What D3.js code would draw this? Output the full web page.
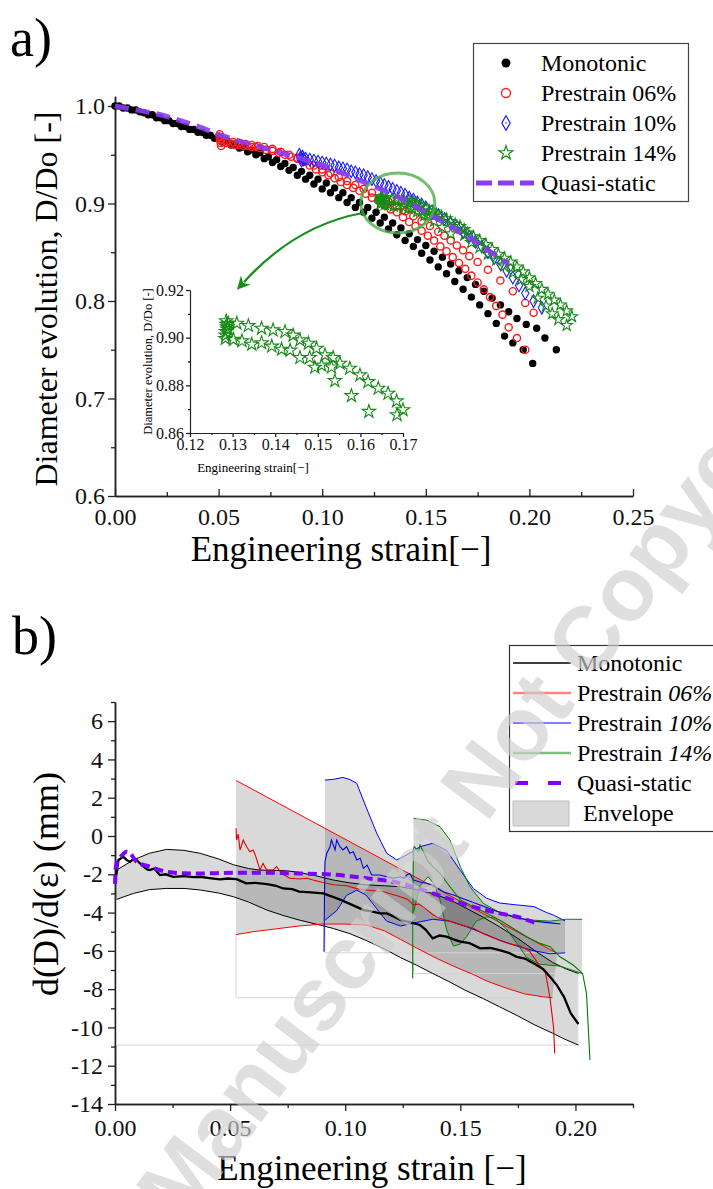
<!DOCTYPE html>
<html>
<head>
<meta charset="utf-8">
<script src="https://cdn.jsdelivr.net/npm/d3@7"></script>
<style>
  body { margin: 0; background: #fff; }
  svg { display: block; }
  svg text { font-family: "Liberation Serif", serif; }
  svg text.stamp { font-family: "Liberation Sans", sans-serif; font-weight: bold; }
</style>
</head>
<body>
<svg id="fig" width="713" height="1189"></svg>
<script>
// ===================== Panel a: diameter evolution D/Do =====================
const aTicksX = [0, 0.05, 0.10, 0.15, 0.20, 0.25];
const aTicksY = [0.6, 0.7, 0.8, 0.9, 1.0];

const monoA_strain = [0,0.004,0.008,0.012,0.016,0.020,0.024,0.028,0.032,0.036,0.040,0.044,0.048,0.052,0.056,0.060,0.064,0.068,0.072,0.076,0.080,0.084,0.088,0.092,0.096,0.100,0.104,0.108,0.112,0.116,0.120,0.124,0.128,0.132,0.136,0.140,0.144,0.148,0.152,0.156,0.160,0.164,0.168,0.172,0.176,0.180,0.184,0.188,0.192,0.197,0.2016];
const monoA_D = [1.000,0.998,0.996,0.994,0.991,0.988,0.985,0.982,0.979,0.976,0.973,0.970,0.967,0.963,0.960,0.957,0.953,0.950,0.946,0.942,0.938,0.934,0.929,0.925,0.920,0.915,0.911,0.906,0.901,0.896,0.891,0.885,0.880,0.874,0.868,0.862,0.856,0.849,0.842,0.835,0.828,0.820,0.812,0.804,0.796,0.787,0.777,0.764,0.757,0.750,0.736];

const monoB_strain = [0.002,0.006,0.010,0.014,0.018,0.022,0.026,0.030,0.034,0.038,0.042,0.046,0.050,0.054,0.058,0.062,0.066,0.070,0.074,0.078,0.082,0.086,0.090,0.094,0.098,0.102,0.106,0.110,0.114,0.118,0.122,0.126,0.130,0.134,0.138,0.142,0.146,0.150,0.154,0.158,0.162,0.166,0.170,0.174,0.178,0.182,0.186,0.190,0.194,0.1985,0.2035,0.2075,0.213];
const monoB_D = [1.000,0.998,0.996,0.993,0.991,0.988,0.985,0.982,0.979,0.976,0.973,0.970,0.967,0.964,0.961,0.958,0.955,0.952,0.948,0.945,0.941,0.937,0.933,0.929,0.925,0.921,0.916,0.911,0.906,0.901,0.896,0.891,0.886,0.880,0.875,0.869,0.863,0.857,0.851,0.845,0.838,0.831,0.824,0.817,0.810,0.803,0.796,0.789,0.782,0.776,0.772,0.762,0.750];

const pre06A_strain = [0.0505,0.0505,0.0508,0.0510,0.0512,0.052,0.054,0.056,0.058,0.060,0.062,0.064,0.066,0.068,0.070,0.073,0.076,0.079,0.082,0.085,0.088,0.091,0.094,0.097,0.100,0.103,0.106,0.109,0.112,0.115,0.118,0.121,0.124,0.127,0.130,0.133,0.136,0.139,0.142,0.145,0.148,0.151,0.154,0.157,0.160,0.163,0.166,0.169,0.172,0.175,0.178,0.181,0.184,0.187,0.190,0.194,0.198];
const pre06A_D = [0.971,0.968,0.965,0.962,0.959,0.963,0.962,0.961,0.960,0.960,0.959,0.959,0.958,0.958,0.957,0.955,0.954,0.952,0.950,0.948,0.946,0.943,0.939,0.935,0.932,0.929,0.926,0.922,0.919,0.916,0.913,0.910,0.906,0.903,0.898,0.894,0.891,0.886,0.881,0.877,0.872,0.867,0.862,0.856,0.851,0.845,0.839,0.833,0.826,0.819,0.812,0.804,0.795,0.786,0.773,0.762,0.750];

const pre06B_strain = [0.0515,0.054,0.057,0.060,0.063,0.066,0.069,0.072,0.076,0.080,0.084,0.088,0.092,0.096,0.100,0.104,0.108,0.112,0.116,0.120,0.124,0.128,0.132,0.136,0.140,0.144,0.148,0.152,0.156,0.159,0.162,0.165,0.168,0.171,0.175,0.180,0.186,0.192,0.198,0.202];
const pre06B_D = [0.966,0.964,0.963,0.962,0.961,0.960,0.959,0.958,0.956,0.953,0.950,0.947,0.943,0.939,0.935,0.931,0.927,0.923,0.919,0.915,0.911,0.906,0.902,0.897,0.892,0.887,0.882,0.877,0.871,0.867,0.862,0.857,0.852,0.846,0.840,0.832,0.821,0.810,0.798,0.788];

const pre10_strain = [0.0890,0.0895,0.0900,0.0905,0.0910,0.092,0.094,0.096,0.098,0.100,0.102,0.104,0.106,0.108,0.110,0.112,0.114,0.116,0.118,0.120,0.122,0.124,0.126,0.128,0.130,0.132,0.134,0.136,0.138,0.140,0.142,0.144,0.146,0.148,0.150,0.153,0.156,0.159,0.162,0.165,0.168,0.171,0.174,0.177,0.180,0.183,0.186,0.189,0.192,0.195,0.198,0.202,0.206];
const pre10_D = [0.950,0.947,0.944,0.948,0.945,0.946,0.945,0.944,0.943,0.942,0.941,0.940,0.939,0.937,0.936,0.935,0.933,0.932,0.930,0.929,0.927,0.925,0.923,0.921,0.919,0.917,0.915,0.913,0.911,0.909,0.906,0.904,0.901,0.899,0.896,0.892,0.888,0.884,0.880,0.876,0.871,0.866,0.861,0.856,0.850,0.844,0.838,0.831,0.824,0.816,0.808,0.800,0.793];

const pre14A_strain = [0.1285,0.1286,0.1287,0.1288,0.1290,0.1310,0.1337,0.1368,0.1395,0.1423,0.1442,0.1458,0.1478,0.1497,0.1517,0.1536,0.1552,0.1575,0.1599,0.1618,0.1642,0.1665,0.1685,0.1700,0.173,0.176,0.179,0.182,0.185,0.188,0.191,0.194,0.197,0.200,0.203,0.206,0.209,0.212,0.215,0.218,0.2205];
const pre14A_D = [0.9070,0.9055,0.9045,0.9035,0.9060,0.9060,0.9050,0.9039,0.9032,0.9025,0.9010,0.8990,0.8976,0.8955,0.8927,0.8916,0.8892,0.8871,0.8843,0.8815,0.8787,0.8766,0.8734,0.8697,0.866,0.862,0.858,0.853,0.848,0.844,0.840,0.835,0.830,0.824,0.818,0.812,0.807,0.801,0.796,0.790,0.784];

const pre14B_strain = [0.1283,0.1284,0.1285,0.1302,0.1322,0.1345,0.1368,0.1392,0.1415,0.1435,0.1458,0.1481,0.1493,0.1509,0.1532,0.1540,0.1579,0.1620,0.1686,0.172,0.176,0.180,0.184,0.188,0.192,0.196,0.200,0.204,0.208,0.211,0.214,0.218];
const pre14B_D = [0.8996,0.9010,0.9025,0.8992,0.8986,0.8972,0.8978,0.8964,0.8951,0.8947,0.8916,0.8916,0.8875,0.8884,0.8876,0.8819,0.8756,0.8690,0.8676,0.860,0.855,0.848,0.842,0.836,0.829,0.822,0.815,0.803,0.795,0.787,0.781,0.775];

const quasiA_strain = [0,0.01,0.02,0.03,0.04,0.05,0.06,0.07,0.08,0.09,0.10,0.11,0.12,0.13,0.14,0.15,0.16,0.17,0.18,0.19];
const quasiA_D = [1.000,0.996,0.992,0.986,0.979,0.971,0.964,0.958,0.952,0.946,0.939,0.931,0.922,0.913,0.903,0.891,0.879,0.866,0.852,0.838];

const insetTicksX = [0.12, 0.13, 0.14, 0.15, 0.16, 0.17];
const insetTicksY = [0.86, 0.88, 0.90, 0.92];

const legendA = ["Monotonic", "Prestrain 06%", "Prestrain 10%", "Prestrain 14%", "Quasi-static"];

// ===================== Panel b: d(D)/d(eps) =====================
const bTicksX = [0, 0.05, 0.10, 0.15, 0.20];
const bTicksY = [-14, -12, -10, -8, -6, -4, -2, 0, 2, 4, 6];

const rateMono_strain = [0.0000,0.0007,0.0015,0.0036,0.0050,0.0065,0.0080,0.0094,0.0110,0.0123,0.0140,0.0150,0.017,0.0195,0.022,0.0253,0.030,0.034,0.037,0.041,0.0456,0.049,0.0528,0.057,0.061,0.066,0.070,0.073,0.077,0.080,0.085,0.0905,0.094,0.098,0.103,0.108,0.112,0.115,0.118,0.121,0.124,0.128,0.1325,0.135,0.138,0.141,0.144,0.147,0.150,0.154,0.1586,0.163,0.167,0.171,0.1745,0.178,0.182,0.186,0.189,0.192,0.195,0.198,0.2013];
const rateMono = [-2.3,-1.95,-1.25,-1.08,-1.25,-1.35,-1.2,-1.25,-1.45,-1.6,-1.75,-1.78,-1.7,-2.04,-2.0,-2.13,-2.1,-2.15,-2.13,-2.2,-2.27,-2.22,-2.25,-2.47,-2.45,-2.51,-2.6,-2.74,-2.78,-2.91,-2.95,-3.0,-3.15,-3.34,-3.6,-3.87,-3.95,-4.04,-4.04,-4.2,-4.39,-4.5,-4.65,-4.9,-5.35,-5.2,-5.26,-5.4,-5.52,-5.6,-5.87,-5.85,-5.96,-6.1,-6.31,-6.4,-6.66,-6.95,-7.36,-7.8,-8.4,-9.27,-9.82];

const envMonoUp_strain = [0.0007,0.008,0.015,0.0224,0.030,0.037,0.045,0.0514,0.058,0.063,0.070,0.0746,0.080,0.088,0.0948,0.102,0.109,0.117,0.124,0.131,0.138,0.1455,0.153,0.160,0.167,0.175,0.182,0.190,0.196,0.2013];
const envMonoUp = [-1.78,-1.25,-0.9,-0.70,-0.75,-0.905,-1.2,-1.5,-1.7,-1.78,-1.8,-1.82,-1.9,-2.1,-2.3,-2.45,-2.55,-2.6,-2.65,-2.8,-3.0,-3.34,-3.8,-4.25,-4.74,-5.35,-5.96,-6.6,-6.95,-7.18];
const envMonoLo_strain = [0.0007,0.008,0.015,0.0224,0.030,0.037,0.045,0.0514,0.058,0.066,0.073,0.080,0.088,0.0948,0.102,0.109,0.117,0.124,0.131,0.138,0.145,0.152,0.160,0.167,0.175,0.182,0.190,0.196,0.2013];
const envMonoLo = [-3.31,-3.0,-2.8,-2.74,-2.74,-2.82,-2.98,-3.17,-3.45,-3.87,-4.15,-4.39,-4.62,-4.83,-5.1,-5.45,-5.9,-6.35,-6.75,-7.18,-7.6,-8.05,-8.5,-8.92,-9.4,-9.85,-10.3,-10.65,-10.92];

const rate06_strain = [0.0526,0.0528,0.0535,0.0543,0.0557,0.0565,0.0572,0.0586,0.060,0.0608,0.0616,0.063,0.0643,0.065,0.066,0.0687,0.0702,0.0724,0.076,0.080,0.0833,0.086,0.089,0.0948,0.1006,0.105,0.109,0.1166,0.124,0.127,0.1296,0.132,0.134,0.138,0.141,0.144,0.148,0.152,0.156,0.160,0.164,0.168,0.172,0.176,0.180,0.184,0.187,0.189,0.1905,0.191];
const rate06 = [0.4,-0.21,0.1,-0.73,-0.21,-0.4,-0.56,-0.82,-0.73,-0.95,-1.25,-1.78,-1.43,-1.6,-1.78,-1.78,-1.6,-1.96,-2.21,-2.25,-2.21,-2.3,-2.39,-2.55,-2.6,-2.75,-2.82,-2.91,-3.17,-3.3,-3.6,-3.55,-3.7,-4.1,-4.3,-4.4,-4.55,-4.7,-4.85,-5.1,-5.3,-5.5,-5.65,-5.75,-6.0,-6.7,-7.15,-8.5,-10.0,-11.36];
const env06Up_strain = [0.0526, 0.192];
const env06Up = [2.9, -6.13];
const env06Lo_strain = [0.0526,0.060,0.070,0.080,0.090,0.100,0.109,0.117,0.124,0.131,0.139,0.147,0.155,0.162,0.170,0.178,0.186,0.190];
const env06Lo = [-5.15,-5.0,-4.85,-4.7,-4.6,-4.6,-4.65,-4.95,-5.4,-5.85,-6.35,-6.8,-7.2,-7.6,-7.95,-8.25,-8.4,-8.45];

const rate10_strain = [0.0908,0.0910,0.0912,0.092,0.0934,0.094,0.0956,0.0963,0.0977,0.099,0.1006,0.102,0.1035,0.105,0.1065,0.1079,0.1095,0.1115,0.115,0.118,0.121,0.124,0.1255,0.1267,0.128,0.1296,0.1325,0.1354,0.138,0.1426,0.147,0.1527,0.1586,0.164,0.170,0.176,0.182,0.186,0.190,0.1935];
const rate10 = [-6.05,-3.0,-1.35,-0.9,-0.56,-0.21,-0.73,-0.21,-0.56,-0.73,-0.56,-0.9,-0.82,-1.25,-1.16,-1.69,-1.52,-2.04,-2.04,-2.13,-2.21,-2.13,-2.21,-2.04,-1.96,-2.3,-2.4,-2.47,-2.56,-2.91,-3.08,-3.34,-3.6,-3.85,-4.1,-4.3,-4.45,-4.5,-4.55,-4.6];
const env10Up_strain = [0.0912,0.0948,0.099,0.102,0.105,0.109,0.1137,0.118,0.1224,0.1267,0.1325,0.138,0.144,0.150,0.1557,0.1614,0.167,0.1745,0.182,0.1875,0.1904,0.1955];
const env10Up = [2.92,2.96,3.06,2.95,2.75,1.53,0.14,-0.9,-1.25,-0.99,-0.56,-0.38,-0.75,-1.8,-2.75,-3.25,-3.5,-3.6,-3.69,-4.0,-4.13,-4.44];
const env10Lo_strain = [0.0912,0.0963,0.1006,0.105,0.109,0.1137,0.118,0.124,0.131,0.138,0.1455,0.1527,0.160,0.167,0.1745,0.182,0.189,0.1955];
const env10Lo = [-4.4,-3.9,-3.1,-2.83,-3.08,-3.8,-4.45,-4.7,-4.52,-4.35,-4.45,-4.74,-5.09,-5.44,-5.75,-6.0,-6.15,-6.1];

const rate14_strain = [0.1293,0.1294,0.1296,0.1300,0.1318,0.1325,0.1335,0.1347,0.1360,0.1380,0.1412,0.1455,0.1500,0.1557,0.1614,0.1670,0.1730,0.1788,0.1846,0.1890,0.1933,0.1990,0.2031,0.2048,0.2063];
const rate14 = [-7.44,-3.5,-0.73,-0.56,-0.82,-0.47,-0.73,-0.99,-1.34,-1.6,-1.96,-2.65,-3.34,-3.69,-4.04,-4.39,-4.83,-5.26,-5.61,-5.78,-6.31,-6.74,-7.18,-8.22,-11.7];
const env14Up_strain = [0.1296,0.1354,0.1412,0.1455,0.150,0.1542,0.160,0.167,0.1745,0.182,0.189,0.196,0.2029];
const env14Up = [0.92,0.83,0.48,-0.21,-1.6,-2.65,-3.52,-4.0,-4.3,-4.4,-4.45,-4.35,-4.35];
const env14Lo_strain = [0.1296,0.1325,0.1360,0.1385,0.1412,0.1440,0.1470,0.1500,0.1527,0.1570,0.1614,0.1650,0.1700,0.1745,0.1788,0.1846,0.1933,0.2029];
const env14Lo = [-4.0,-2.6,-2.13,-2.5,-3.34,-4.9,-5.75,-5.65,-5.26,-4.45,-4.22,-4.3,-4.85,-5.6,-6.35,-6.7,-6.8,-7.18];

const rateQS_strain = [0.0000,0.0003,0.0007,0.0020,0.0035,0.0050,0.0065,0.0094,0.0150,0.0224,0.0300,0.0370,0.0514,0.0660,0.0800,0.0948,0.1090,0.1240,0.1380,0.1527,0.1670,0.1745,0.1840];
const rateQS = [-2.5,-1.7,-1.45,-1.15,-0.95,-0.82,-0.9,-1.35,-1.6,-1.87,-1.95,-1.96,-1.92,-1.92,-1.96,-2.02,-2.2,-2.47,-3.0,-3.6,-4.04,-4.22,-4.6];

const legendB = ["Monotonic", "Prestrain ", "Prestrain ", "Prestrain ", "Quasi-static", "Envelope"];
const legendBItalic = ["", "06%", "10%", "14%", "", ""];

// ===================== drawing =====================
const svg = d3.select("#fig");
const zipXY = (xs, ys) => d3.range(Math.min(xs.length, ys.length)).map(i => [xs[i], ys[i]]);

function styleAxis(g, fs) {
  g.attr("font-size", fs);
  g.select(".domain").attr("stroke", "#222").attr("stroke-width", 1.5);
  g.selectAll(".tick line").attr("stroke", "#222").attr("stroke-width", 1.3);
  g.selectAll(".tick text").attr("fill", "#111");
}

// ---------- panel a ----------
const xa = d3.scaleLinear().domain([0, 0.25]).range([115, 633]);
const ya = d3.scaleLinear().domain([0.6, 1.01]).range([496, 96.25]);

const gA = svg.append("g");

// x axis (ticks pointing into the plot)
gA.append("g").attr("transform", `translate(0,${ya(0.6)})`)
  .call(d3.axisBottom(xa).tickValues([0.025,0.075,0.125,0.175,0.225]).tickSize(-4).tickSizeOuter(0).tickFormat(""))
  .call(g => styleAxis(g, 24));
gA.append("g").attr("transform", `translate(0,${ya(0.6)})`)
  .call(d3.axisBottom(xa).tickValues(aTicksX).tickSize(-7).tickSizeOuter(0).tickPadding(12).tickFormat(d3.format(".2f")))
  .call(g => styleAxis(g, 24));
// y axis
gA.append("g").attr("transform", `translate(${xa(0)},0)`)
  .call(d3.axisLeft(ya).tickValues([0.65,0.75,0.85,0.95]).tickSize(4).tickSizeOuter(0).tickFormat(""))
  .call(g => styleAxis(g, 24));
gA.append("g").attr("transform", `translate(${xa(0)},0)`)
  .call(d3.axisLeft(ya).tickValues(aTicksY).tickSize(7).tickSizeOuter(0).tickPadding(3).tickFormat(d3.format(".1f")))
  .call(g => styleAxis(g, 24));

gA.append("text").attr("x", 10).attr("y", 56).attr("font-size", 54).text("a)");
gA.append("text").attr("transform", `translate(57,${(ya(0.6) + ya(1.0)) / 2 - 2}) rotate(-90)`)
  .attr("text-anchor", "middle").attr("font-size", 32)
  .text("Diameter evolution, D/Do [-]");
gA.append("text").attr("x", 341).attr("y", 561)
  .attr("text-anchor", "middle").attr("font-size", 35)
  .text("Engineering strain[\u2212]");

const star = d3.symbol().type(d3.symbolStar);
const diamond = d3.symbol().type(d3.symbolDiamond);

function dots(g, pts, sx, sy, r) {
  g.append("g").selectAll("circle").data(pts).join("circle")
    .attr("cx", d => sx(d[0])).attr("cy", d => sy(d[1])).attr("r", r).attr("fill", "#000");
}
function rings(g, pts, sx, sy, r, col) {
  g.append("g").selectAll("circle").data(pts).join("circle")
    .attr("cx", d => sx(d[0])).attr("cy", d => sy(d[1])).attr("r", r)
    .attr("fill", "none").attr("stroke", col).attr("stroke-width", 1.4);
}
function symbols(g, pts, sx, sy, gen, size, col, sw) {
  g.append("g").selectAll("path").data(pts).join("path")
    .attr("transform", d => `translate(${sx(d[0])},${sy(d[1])})`)
    .attr("d", gen.size(size)())
    .attr("fill", "none").attr("stroke", col).attr("stroke-width", sw);
}

const plotA = gA.append("g");
dots(plotA, zipXY(monoA_strain, monoA_D), xa, ya, 3.7);
dots(plotA, zipXY(monoB_strain, monoB_D), xa, ya, 3.7);
rings(plotA, zipXY(pre06A_strain, pre06A_D), xa, ya, 3.6, "#ff1a1a");
rings(plotA, zipXY(pre06B_strain, pre06B_D), xa, ya, 3.6, "#ff1a1a");
symbols(plotA, zipXY(pre10_strain, pre10_D), xa, ya, diamond, 46, "#1a1aff", 1.1);
symbols(plotA, zipXY(pre14A_strain, pre14A_D), xa, ya, star, 42, "#168a16", 1.1);
symbols(plotA, zipXY(pre14B_strain, pre14B_D), xa, ya, star, 42, "#168a16", 1.1);

plotA.append("path").datum(zipXY(quasiA_strain, quasiA_D))
  .attr("d", d3.line().x(d => xa(d[0])).y(d => ya(d[1])).curve(d3.curveMonotoneX))
  .attr("fill", "none").attr("stroke", "#8a3cf0").attr("stroke-width", 5)
  .attr("stroke-dasharray", "14,7").attr("opacity", 0.9);

// highlight ring around the 14% start cluster and the arrow to the inset
const ringCx = xa(0.1365), ringCy = ya(0.9005);
gA.append("ellipse").attr("cx", ringCx).attr("cy", ringCy).attr("rx", 37).attr("ry", 30)
  .attr("fill", "none").attr("stroke", "#4fae4f").attr("stroke-width", 3).attr("opacity", 0.8);

const defs = svg.append("defs");
defs.append("marker").attr("id", "ahead").attr("viewBox", "0 0 10 10").attr("refX", 2).attr("refY", 5)
  .attr("markerWidth", 6).attr("markerHeight", 6).attr("markerUnits", "strokeWidth").attr("orient", "auto")
  .append("path").attr("d", "M0,0 L10,5 L0,10 L3,5 Z").attr("fill", "#17901a");
const a0 = [ringCx - 35, ringCy + 10];
const a1 = [244, 282];
gA.append("path")
  .attr("d", `M${a0[0]},${a0[1]} Q${296},${225} ${a1[0]},${a1[1]}`)
  .attr("fill", "none").attr("stroke", "#17901a").attr("stroke-width", 2.2)
  .attr("marker-end", "url(#ahead)");

// inset: zoom on the 14% prestrain start
const xi = d3.scaleLinear().domain([0.12, 0.17]).range([190, 403]);
const yi = d3.scaleLinear().domain([0.86, 0.92]).range([433, 290]);
const gI = gA.append("g");
gI.append("g").attr("transform", `translate(0,${yi(0.86)})`)
  .call(d3.axisBottom(xi).tickValues([0.125,0.135,0.145,0.155,0.165]).tickSize(2).tickSizeOuter(0).tickFormat(""))
  .call(g => styleAxis(g, 16));
gI.append("g").attr("transform", `translate(0,${yi(0.86)})`)
  .call(d3.axisBottom(xi).tickValues(insetTicksX).tickSize(4).tickSizeOuter(0).tickPadding(2).tickFormat(d3.format(".2f")))
  .call(g => styleAxis(g, 16));
gI.append("g").attr("transform", `translate(${xi(0.12)},0)`)
  .call(d3.axisLeft(yi).tickValues([0.87,0.89,0.91]).tickSize(2).tickSizeOuter(0).tickFormat(""))
  .call(g => styleAxis(g, 16));
gI.append("g").attr("transform", `translate(${xi(0.12)},0)`)
  .call(d3.axisLeft(yi).tickValues(insetTicksY).tickSize(4).tickSizeOuter(0).tickPadding(2).tickFormat(d3.format(".2f")))
  .call(g => styleAxis(g, 16));
gI.selectAll(".domain").attr("stroke-width", 1.1);
gI.append("text").attr("transform", `translate(152,${(yi(0.86) + yi(0.92)) / 2}) rotate(-90)`)
  .attr("text-anchor", "middle").attr("font-size", 12.5)
  .text("Diameter evolution, D/Do [-]");
gI.append("text").attr("x", 253).attr("y", 472).attr("text-anchor", "middle")
  .attr("font-size", 13).text("Engineering strain[\u2212]");
const inIn = p => p[0] >= 0.12 && p[0] <= 0.17 && p[1] >= 0.86 && p[1] <= 0.92;
symbols(gI, zipXY(pre14A_strain, pre14A_D).filter(inIn), xi, yi, star, 55, "#168a16", 1.1);
symbols(gI, zipXY(pre14B_strain, pre14B_D).filter(inIn), xi, yi, star, 55, "#168a16", 1.1);

// legend a
const legA = gA.append("g");
legA.append("rect").attr("x", 473.5).attr("y", 43.5).attr("width", 215).attr("height", 158)
  .attr("fill", "#fff").attr("stroke", "#444").attr("stroke-width", 1.2);
legendA.forEach((t, i) => {
  const y = 63 + i * 30;
  legA.append("text").attr("x", 541).attr("y", y + 8).attr("font-size", 24).text(t);
});
legA.append("circle").attr("cx", 506).attr("cy", 63).attr("r", 4.5).attr("fill", "#000");
legA.append("circle").attr("cx", 506).attr("cy", 93).attr("r", 4.5).attr("fill", "none").attr("stroke", "#ff1a1a").attr("stroke-width", 1.3);
legA.append("path").attr("transform", "translate(506,123)").attr("d", diamond.size(60)()).attr("fill", "none").attr("stroke", "#1a1aff").attr("stroke-width", 1.2);
legA.append("circle").attr("cx", 506).attr("cy", 123).attr("r", 0.8).attr("fill", "#1a1aff");
legA.append("path").attr("transform", "translate(506,153)").attr("d", star.size(60)()).attr("fill", "none").attr("stroke", "#168a16").attr("stroke-width", 1.2);
legA.append("line").attr("x1", 476).attr("x2", 534).attr("y1", 183).attr("y2", 183)
  .attr("stroke", "#8a3cf0").attr("stroke-width", 5).attr("stroke-dasharray", "16,6");

// ---------- panel b ----------
const xb = d3.scaleLinear().domain([0, 0.225]).range([115, 633]);
const yb = d3.scaleLinear().domain([-14, 7]).range([1104, 702]);
const gB = svg.append("g");

gB.append("g").attr("transform", `translate(0,${yb(-14)})`)
  .call(d3.axisBottom(xb).tickValues([0.025,0.075,0.125,0.175,0.225]).tickSize(4).tickSizeOuter(0).tickFormat(""))
  .call(g => styleAxis(g, 24));
gB.append("g").attr("transform", `translate(0,${yb(-14)})`)
  .call(d3.axisBottom(xb).tickValues(bTicksX).tickSize(7).tickSizeOuter(0).tickPadding(8).tickFormat(d3.format(".2f")))
  .call(g => styleAxis(g, 24));
gB.append("g").attr("transform", `translate(${xb(0)},0)`)
  .call(d3.axisLeft(yb).tickValues(d3.range(-13, 8, 2)).tickSize(4).tickSizeOuter(0).tickFormat(""))
  .call(g => styleAxis(g, 24));
gB.append("g").attr("transform", `translate(${xb(0)},0)`)
  .call(d3.axisLeft(yb).tickValues(bTicksY).tickSize(7).tickSizeOuter(0).tickPadding(5).tickFormat(d => String(d)))
  .call(g => styleAxis(g, 24));

gB.append("text").attr("x", 12).attr("y", 654).attr("font-size", 54).text("b)");
gB.append("text").attr("transform", "translate(58,884) rotate(-90)")
  .attr("text-anchor", "middle").attr("font-size", 36)
  .text("d(D)/d(\u03b5) (mm)");
gB.append("text").attr("x", 372).attr("y", 1180).attr("text-anchor", "middle")
  .attr("font-size", 35).text("Engineering strain [\u2212]");

const lineB = d3.line().x(d => xb(d[0])).y(d => yb(d[1]));
const envelopes = [
  { up: zipXY(envMonoUp_strain, envMonoUp), lo: zipXY(envMonoLo_strain, envMonoLo), col: "#000" },
  { up: zipXY(env06Up_strain, env06Up),     lo: zipXY(env06Lo_strain, env06Lo),     col: "#ff0000" },
  { up: zipXY(env10Up_strain, env10Up),     lo: zipXY(env10Lo_strain, env10Lo),     col: "#0000ff" },
  { up: zipXY(env14Up_strain, env14Up),     lo: zipXY(env14Lo_strain, env14Lo),     col: "#008000" }
];
const plotB = gB.append("g");
envelopes.forEach(e => {
  const poly = e.up.concat(e.lo.slice().reverse());
  plotB.append("path").attr("d", lineB(poly) + "Z").attr("fill", "#000").attr("fill-opacity", 0.15).attr("stroke", "none");
});
// faint baseline frame of each filled band
envelopes.forEach(e => {
  const x0 = e.lo[0][0], x1 = e.lo[e.lo.length - 1][0];
  const yEnd = e.lo[e.lo.length - 1][1];
  plotB.append("path").attr("d", lineB([[x0, e.lo[0][1]], [x0, yEnd], [x1, yEnd]]))
    .attr("fill", "none").attr("stroke", "#d4d4d4").attr("stroke-width", 1);
});
envelopes.forEach(e => {
  [e.up, e.lo].forEach(c => plotB.append("path").attr("d", lineB(c))
    .attr("fill", "none").attr("stroke", e.col).attr("stroke-width", 1));
});
[[rate06_strain, rate06, "#e00000"], [rate10_strain, rate10, "#0000e0"], [rate14_strain, rate14, "#007a00"]]
  .forEach(([xs, ys, c]) => plotB.append("path").attr("d", lineB(zipXY(xs, ys)))
    .attr("fill", "none").attr("stroke", c).attr("stroke-width", 1.1));
plotB.append("path").attr("d", lineB(zipXY(rateMono_strain, rateMono)))
  .attr("fill", "none").attr("stroke", "#000").attr("stroke-width", 2.3);
plotB.append("path").datum(zipXY(rateQS_strain, rateQS))
  .attr("d", d3.line().x(d => xb(d[0])).y(d => yb(d[1])).curve(d3.curveMonotoneX))
  .attr("fill", "none").attr("stroke", "#8000ff").attr("stroke-width", 4).attr("stroke-dasharray", "9,5");

// legend b
const legB = gB.append("g");
legB.append("rect").attr("x", 509.5).attr("y", 645.5).attr("width", 240).attr("height", 186)
  .attr("fill", "#fff").attr("stroke", "#333").attr("stroke-width", 1.2);
const legBLine = [
  { c: "#000", w: 1.5, o: 1 }, { c: "#ff3030", w: 2.5, o: 0.6 }, { c: "#0000ff", w: 1.2, o: 1 },
  { c: "#2e962e", w: 2.5, o: 0.6 }
];
legendB.forEach((t, i) => {
  const y = 663 + i * 30;
  if (i < 4) {
    legB.append("line").attr("x1", 513).attr("x2", 571).attr("y1", y).attr("y2", y)
      .attr("stroke", legBLine[i].c).attr("stroke-width", legBLine[i].w).attr("opacity", legBLine[i].o);
  } else if (i === 4) {
    legB.append("line").attr("x1", 513).attr("x2", 571).attr("y1", y).attr("y2", y)
      .attr("stroke", "#8000ff").attr("stroke-width", 4).attr("stroke-dasharray", "13,20").attr("stroke-dashoffset", -2);
  } else {
    legB.append("rect").attr("x", 513).attr("y", y - 12).attr("width", 56).attr("height", 25)
      .attr("fill", "#d9d9d9").attr("stroke", "#bdbdbd").attr("stroke-width", 1);
  }
  const tx = legB.append("text").attr("x", i === 5 ? 583 : 577).attr("y", y + 8)
    .attr("font-size", 24).text(t);
  if (legendBItalic[i]) tx.append("tspan").attr("font-style", "italic").text(legendBItalic[i]);
});

// ---------- overlay stamp ----------
// the second word is anchored at (182,1227); the first word runs off the page
const stampAngle = -53;
const stamp = svg.append("text").attr("class", "stamp")
  .attr("font-size", 90).attr("fill", "#cfcfcf").attr("opacity", 0.65)
  .text("Accepted Manuscript Not Copyedited");
const leadLen = stamp.node().getSubStringLength(0, 9);
stamp.attr("x", -leadLen).attr("y", 0)
  .attr("transform", `translate(182,1227) rotate(${stampAngle})`);
</script>
</body>
</html>
